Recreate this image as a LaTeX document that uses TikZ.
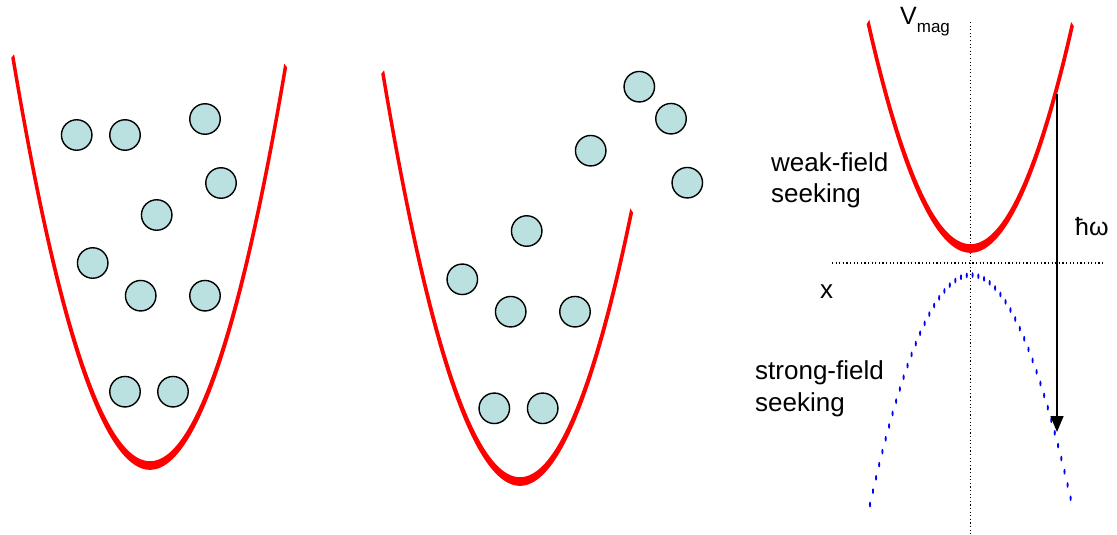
\documentclass[tikz,border=0pt]{standalone}
\usepackage{fontspec}
\setmainfont{Liberation Sans}
\usetikzlibrary{arrows.meta}
\definecolor{atomfill}{RGB}{186,224,224}
% vertical stretch of the potential curves (pen and dashes stretch with them)
\def\stretchk{2.7}
\begin{document}
\begin{tikzpicture}[x=1pt,y=-1pt,
  atom/.style={circle,draw=black,line width=1.4pt,fill=atomfill,minimum size=30.5pt,inner sep=0pt},
  trap/.style={red,line width=3.2pt},
  lbl/.style={font=\fontsize{26}{30}\selectfont,inner sep=0pt,anchor=base west},
  axis/.style={black,line width=1.1pt,dash pattern=on 1.1pt off 2.5pt},
  sfs/.style={blue,line width=2.1pt,line cap=round,dash pattern=on 0pt off 5.8pt},
  stretched/.style={transform canvas={shift={#1},yscale=\stretchk}},
]
\useasboundingbox (0,0) rectangle (1117,535);

% ---- left trap: atoms at rest in the potential
\begin{scope}[stretched={(150,465.5)}]
  \draw[trap] plot[domain=-13.73:13.57,samples=120,smooth] ({10*\x},{-2.172/\stretchk*\x*\x});
\end{scope}
\foreach \n/\px/\py in {a1/76.7/135, a2/125/135, a3/205/119, a4/221/183, a5/156.7/215,
                         a6/92.7/263, a7/140.7/295.7, a8/205/295.7, a9/125/391.7, a10/173/391.7}
  \node[atom] (\n) at (\px,\py) {};

% ---- middle trap: truncated, hot atoms escape
\begin{scope}[stretched={(520,481.5)}]
  \draw[trap] plot[domain=-13.73:11.17,samples=120,smooth] ({10*\x},{-2.172/\stretchk*\x*\x});
\end{scope}
\foreach \n/\px/\py in {b1/639.3/86.7, b2/671/118.7, b3/590.7/150.7, b4/687.3/182.7, b5/526.7/231,
                         b6/462.3/279.3, b7/510.7/311.7, b8/575/311.7, b9/494.3/408.3, b10/542.7/408.3}
  \node[atom] (\n) at (\px,\py) {};

% ---- right panel: magnetic potential for the two spin states
\coordinate (vtop) at (970.5,22);
\coordinate (vbot) at (970.5,535);
\coordinate (hleft) at (832,263);
\coordinate (hright) at (1104,263);
\draw[axis] (vtop) -- (vbot);
\draw[axis] (hleft) -- (hright);

\begin{scope}[stretched={(970.5,248.5)}]
  \draw[trap] plot[domain=-10.25:10.2,samples=120,smooth] ({10*\x},{-2.156/\stretchk*\x*\x});
\end{scope}
\begin{scope}[stretched={(971,275)}]
  \draw[sfs] plot[domain=-10.1:10.0,samples=120,smooth] ({10*\x},{2.25/\stretchk*\x*\x});
\end{scope}

\coordinate (hwtop) at (1057,94);
\coordinate (hwtip) at (1057,432);
\draw[line width=1.5pt,-{Triangle[width=13pt,length=16pt]}] (hwtop) -- (hwtip);

\node[lbl,font=\fontsize{25}{30}\selectfont] (vmag) at (900,25) {V\raisebox{-8pt}{\fontsize{17}{20}\selectfont mag}};
\node[lbl] (xlab) at (820,298) {x};
\node[lbl,font=\fontsize{25}{30}\selectfont] (hw) at (1075,235) {ħω};
\node[lbl] (wfs1) at (771,171) {weak-field};
\node[lbl] (wfs2) at (771,202) {seeking};
\node[lbl] (sfs1) at (755,379) {strong-field};
\node[lbl] (sfs2) at (755,411.5) {seeking};
\end{tikzpicture}
\end{document}
